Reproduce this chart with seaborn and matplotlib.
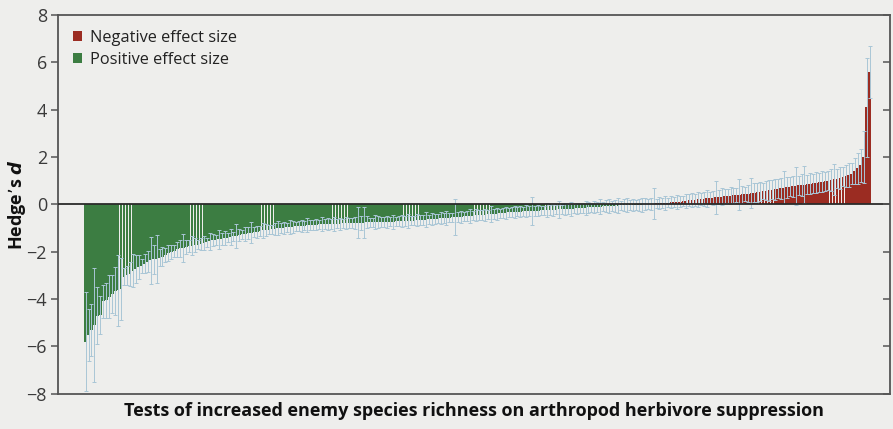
import numpy as np
import pandas as pd
import seaborn as sns
import matplotlib.pyplot as plt
from matplotlib.patches import Patch

# effect sizes (Hedge's d), sorted
neg_a = [-5.80, -5.50, -5.30, -5.10, -4.70, -4.68, -4.10, -4.05, -3.90, -3.80,
         -3.65, -3.62, -3.58, -3.05, -3.00, -2.95, -2.80, -2.72, -2.65, -2.60,
         -2.50, -2.42, -2.36, -2.32, -2.30, -2.25, -2.20, -2.12, -2.05, -2.00,
         -1.95]
neg_b = [-1.90, -1.86, -1.84, -1.80, -1.76, -1.75, -1.71, -1.70, -1.66, -1.62,
         -1.60, -1.56, -1.52, -1.50, -1.47, -1.45, -1.42, -1.40, -1.37, -1.35,
         -1.32, -1.30, -1.27, -1.25, -1.22, -1.20, -1.17, -1.15, -1.12, -1.10,
         -1.08, -1.06]
neg_c = [-1.05, -1.03, -1.01, -1.00, -0.98, -0.97, -0.95, -0.95, -0.93, -0.92,
         -0.90, -0.90, -0.88, -0.87, -0.86, -0.85, -0.84, -0.84, -0.83, -0.83,
         -0.82, -0.82, -0.81, -0.81, -0.80, -0.80, -0.79, -0.79, -0.78, -0.78,
         -0.77, -0.77, -0.76, -0.76, -0.76, -0.75, -0.75, -0.75]
neg_d = [-0.74, -0.74, -0.73, -0.73, -0.72, -0.71, -0.71, -0.70, -0.69, -0.68,
         -0.68, -0.67, -0.66, -0.65, -0.64, -0.63, -0.62, -0.61, -0.60, -0.59,
         -0.58, -0.57, -0.56, -0.55, -0.54, -0.53, -0.52, -0.50, -0.49, -0.48,
         -0.47, -0.46, -0.45, -0.44, -0.43, -0.42, -0.41, -0.40, -0.39, -0.38,
         -0.37, -0.36, -0.34, -0.33, -0.32, -0.31]
neg_e = [-0.30, -0.29, -0.29, -0.28, -0.27, -0.27, -0.26, -0.25, -0.25, -0.24,
         -0.23, -0.23, -0.22, -0.21, -0.21, -0.20, -0.19, -0.19, -0.18, -0.17,
         -0.16, -0.15, -0.14, -0.13, -0.12, -0.11, -0.10, -0.09, -0.08, -0.08,
         -0.07, -0.06, -0.06, -0.05, -0.04, -0.04, -0.03, -0.03, -0.02, -0.02,
         -0.01, -0.01]
pos_f = [0.01, 0.01, 0.02, 0.03, 0.04, 0.05, 0.06, 0.07, 0.08, 0.09,
         0.10, 0.11, 0.12, 0.14, 0.15, 0.17, 0.18, 0.20, 0.21, 0.22,
         0.24, 0.25, 0.27, 0.28, 0.30, 0.31, 0.33, 0.34, 0.35, 0.37,
         0.38, 0.40, 0.41, 0.43, 0.44, 0.46, 0.48, 0.50]
pos_g = [0.52, 0.54, 0.56, 0.58, 0.60, 0.62, 0.64, 0.66, 0.68, 0.70,
         0.72, 0.74, 0.76, 0.78, 0.80, 0.82, 0.84, 0.86, 0.88, 0.90,
         0.92, 0.94, 0.96, 0.98, 1.00, 1.03, 1.06, 1.09, 1.12, 1.16,
         1.20, 1.25, 1.30, 1.40, 1.52, 1.65, 2.00, 4.10, 5.60]

# error bar half widths, same order
err_a = [2.10, 1.10, 1.10, 2.40, 1.20, 0.80, 0.70, 0.75, 0.90, 0.80,
         1.00, 1.50, 1.30, 0.35, 0.40, 0.50, 0.70, 0.60, 0.50, 0.30,
         0.40, 0.45, 1.00, 0.60, 1.00, 0.35, 0.40, 0.30, 0.35, 0.30,
         0.25]
err_b = [0.30, 0.35, 0.60, 0.30, 0.25, 0.40, 0.30, 0.20, 0.25, 0.30,
         0.20, 0.35, 0.25, 0.20, 0.40, 0.25, 0.30, 0.20, 0.35, 0.20,
         0.50, 0.25, 0.20, 0.30, 0.25, 0.45, 0.20, 0.25, 0.20, 0.30,
         0.25, 0.20]
err_c = [0.20, 0.25, 0.30, 0.20, 0.25, 0.20, 0.30, 0.25, 0.20, 0.20,
         0.25, 0.20, 0.30, 0.20, 0.20, 0.25, 0.20, 0.30, 0.20, 0.25,
         0.20, 0.30, 0.20, 0.25, 0.20, 0.25, 0.20, 0.20, 0.25, 0.65,
         0.30, 0.65, 0.25, 0.20, 0.20, 0.30, 0.25, 0.20]
err_d = [0.20, 0.25, 0.20, 0.30, 0.20, 0.20, 0.25, 0.20, 0.30, 0.20,
         0.20, 0.25, 0.20, 0.20, 0.30, 0.20, 0.25, 0.20, 0.20, 0.25,
         0.20, 0.30, 0.20, 0.20, 0.75, 0.20, 0.25, 0.20, 0.20, 0.30,
         0.20, 0.25, 0.20, 0.20, 0.25, 0.20, 0.35, 0.20, 0.25, 0.20,
         0.20, 0.25, 0.20, 0.20, 0.25, 0.20]
err_e = [0.25, 0.20, 0.25, 0.20, 0.60, 0.20, 0.25, 0.20, 0.20, 0.30,
         0.20, 0.25, 0.20, 0.35, 0.20, 0.25, 0.20, 0.30, 0.20, 0.25,
         0.20, 0.20, 0.30, 0.25, 0.20, 0.25, 0.20, 0.30, 0.20, 0.25,
         0.30, 0.20, 0.25, 0.30, 0.20, 0.25, 0.30, 0.20, 0.25, 0.20,
         0.25, 0.30]
err_f = [0.25, 0.20, 0.25, 0.65, 0.20, 0.25, 0.20, 0.30, 0.20, 0.25,
         0.20, 0.30, 0.25, 0.20, 0.30, 0.25, 0.30, 0.25, 0.30, 0.25,
         0.30, 0.35, 0.25, 0.30, 0.70, 0.30, 0.35, 0.30, 0.30, 0.35,
         0.30, 0.30, 0.65, 0.35, 0.30, 0.35, 0.65, 0.40]
err_g = [0.40, 0.40, 0.35, 0.40, 0.45, 0.40, 0.45, 0.40, 0.45, 0.70,
         0.45, 0.40, 0.45, 0.80, 0.40, 0.45, 0.80, 0.40, 0.45, 0.40,
         0.45, 0.40, 0.45, 0.40, 0.40, 0.45, 0.65, 0.40, 0.45, 0.40,
         0.45, 0.50, 0.45, 0.55, 0.65, 0.70, 1.10, 2.10, 1.10]

legend_labels = ["Negative effect size", "Positive effect size"]
y_ticks = [-8, -6, -4, -2, 0, 2, 4, 6, 8]

values = neg_a + neg_b + neg_c + neg_d + neg_e + pos_f + pos_g
errors = err_a + err_b + err_c + err_d + err_e + err_f + err_g

df = pd.DataFrame({"test": np.arange(len(values)), "d": values, "err": errors})
df["kind"] = np.where(df["d"] > 0, legend_labels[0], legend_labels[1])

sns.set_theme(style="ticks")
plt.rcParams["font.family"] = ["Open Sans", "DejaVu Sans"]
plt.rcParams["mathtext.fontset"] = "dejavusans"

bg = "#eeeeec"
red = "#9b2c22"
green = "#3c7d42"
ebar = "#a9c6d6"
dark = "#3a3a3a"

fig = plt.figure(figsize=(8.93, 4.29), dpi=100, facecolor=bg)
ax = fig.add_axes([0.065, 0.082, 0.9316, 0.883])
ax.set_facecolor(bg)

sns.barplot(data=df, x="test", y="d", hue="kind", hue_order=legend_labels,
            palette=[red, green], dodge=False, width=0.92, errorbar=None,
            saturation=1, legend=False, linewidth=0, ax=ax)
ax.errorbar(df["test"], df["d"], yerr=df["err"], fmt="none", ecolor=ebar,
            elinewidth=0.7, capsize=1.3, capthick=0.7, zorder=3)
ax.axhline(0, color="#2a2a2a", lw=1.3, zorder=4)

ax.set_xlim(-9.3, 271.9)
ax.set_ylim(-8, 8)
ax.set_xticks([])
ax.set_yticks(y_ticks)
ax.set_yticklabels([str(t).replace("-", "\u2212") for t in y_ticks],
                   fontsize=13, color=dark)
ax.tick_params(axis="y", direction="out", length=5, width=1.1, color="#555555", pad=3)
for s in ax.spines.values():
    s.set_color("#555555")
    s.set_linewidth(1.3)

tw = ax.twinx()
tw.set_ylim(-8, 8)
tw.set_yticks(y_ticks)
tw.tick_params(axis="y", direction="in", length=5, width=1.1, color="#555555",
               labelright=False)
for s in tw.spines.values():
    s.set_visible(False)

ax.set_xlabel("Tests of increased enemy species richness on arthropod herbivore suppression",
              fontsize=13, fontweight="bold", color="#111111", labelpad=6)
ax.set_ylabel("Hedge\u2019s $\\mathbfit{d}$", fontsize=13, fontweight="bold",
              color="#111111")
ax.yaxis.set_label_coords(-0.036, 0.5)

handles = [Patch(facecolor=red, edgecolor="none"), Patch(facecolor=green, edgecolor="none")]
ax.legend(handles, legend_labels, loc="upper left", bbox_to_anchor=(0.0, 1.0),
          frameon=False, fontsize=11.8, handlelength=0.55, handleheight=0.55,
          handletextpad=0.5, labelspacing=0.35, borderaxespad=0.5,
          labelcolor="#222222")

fig.savefig("out.png", dpi=100, facecolor=bg)
